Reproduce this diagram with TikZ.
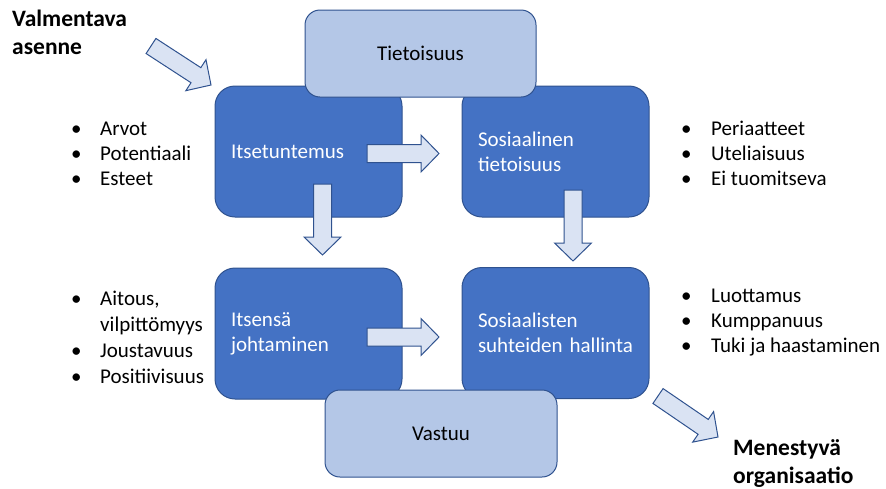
\documentclass[tikz,border=0pt]{standalone}
\usepackage{fontspec}
\setmainfont{Carlito}
\usetikzlibrary{calc}
\definecolor{darkfill}{HTML}{4472C4}
\definecolor{edgeblue}{HTML}{2F528F}
\definecolor{lightfill}{HTML}{B4C7E7}
\definecolor{arrowfill}{HTML}{DAE3F3}
\tikzset{
  darkbox/.style={draw=edgeblue, line width=1pt, fill=darkfill, rounded corners=20pt,
    minimum height=131pt, text width=155pt, inner xsep=16pt, inner ysep=0pt, align=left,
    text=white, font=\fontsize{21}{25}\selectfont},
  lightbox/.style={draw=edgeblue, line width=1pt, fill=lightfill, rounded corners=15pt,
    minimum height=87pt, minimum width=231pt, text=black, font=\fontsize{21}{25}\selectfont},
  barrowstyle/.style={draw=edgeblue, line width=1pt, fill=arrowfill, line join=miter},
  listtext/.style={anchor=base west, inner sep=0pt, font=\fontsize{21}{25}\selectfont},
  boldtext/.style={anchor=base west, inner sep=0pt, align=left, font=\fontsize{23.5}{28}\selectfont\bfseries}
}
\newcommand\barr[2]{%
  \path ($(#2)!18pt!(#1)$) coordinate (hb);
  \draw[barrowstyle] ($(#1)!9pt!90:(#2)$) -- ($(hb)!9pt!-90:(#1)$) -- ($(hb)!18.5pt!-90:(#1)$)
    -- (#2) -- ($(hb)!18.5pt!90:(#1)$) -- ($(hb)!9pt!90:(#1)$) -- ($(#1)!9pt!-90:(#2)$) -- cycle;}
\begin{document}
\begin{tikzpicture}[x=1pt,y=-1pt]
\useasboundingbox (0,0) rectangle (886,488);
% main boxes
\node[darkbox] (itse) at (308.5,151.5) {Itsetuntemus};
\node[darkbox] (sos) at (555.5,151.5) {Sosiaalinen\\tietoisuus};
\node[darkbox] (johta) at (308.5,333.5) {Itsensä\\johtaminen};
\node[darkbox] (suht) at (555.5,333) {Sosiaalisten\\suhteiden hallinta};
% light boxes
\node[lightbox] (tieto) at (420.5,53.5) {Tietoisuus};
\node[lightbox, minimum width=232pt] (vastuu) at (441,433.5) {Vastuu};
% arrows
\coordinate (a1s) at (151,46);    \coordinate (a1e) at (211,85);
\coordinate (a2s) at (367,153.5); \coordinate (a2e) at (439,153.5);
\coordinate (a3s) at (322.5,184); \coordinate (a3e) at (322.5,255);
\coordinate (a4s) at (573,190);   \coordinate (a4e) at (573,261);
\coordinate (a5s) at (367,337);   \coordinate (a5e) at (439,337);
\coordinate (a6s) at (658,396);   \coordinate (a6e) at (718,437);
\barr{a1s}{a1e}
\barr{a2s}{a2e}
\barr{a3s}{a3e}
\barr{a4s}{a4e}
\barr{a5s}{a5e}
\barr{a6s}{a6e}
% bullet lists
\node[listtext] (l1) at (71,135) {\begin{tabular}[t]{@{}p{29pt}@{}l@{}}•&Arvot\\•&Potentiaali\\•&Esteet\end{tabular}};
\node[listtext] (l2) at (681,135) {\begin{tabular}[t]{@{}p{30pt}@{}l@{}}•&Periaatteet\\•&Uteliaisuus\\•&Ei tuomitseva\end{tabular}};
\node[listtext, font=\fontsize{21}{26}\selectfont] (l3) at (71,305) {\begin{tabular}[t]{@{}p{29pt}@{}l@{}}•&Aitous,\\&vilpittömyys\\•&Joustavuus\\•&Positiivisuus\end{tabular}};
\node[listtext] (l4) at (681,302) {\begin{tabular}[t]{@{}p{30pt}@{}l@{}}•&Luottamus\\•&Kumppanuus\\•&Tuki ja haastaminen\end{tabular}};
% bold labels (base anchor is on the last line)
\node[boldtext] (va) at (12,54) {Valmentava\\asenne};
\node[boldtext] (mo) at (733,483) {Menestyvä\\organisaatio};
\end{tikzpicture}
\end{document}
